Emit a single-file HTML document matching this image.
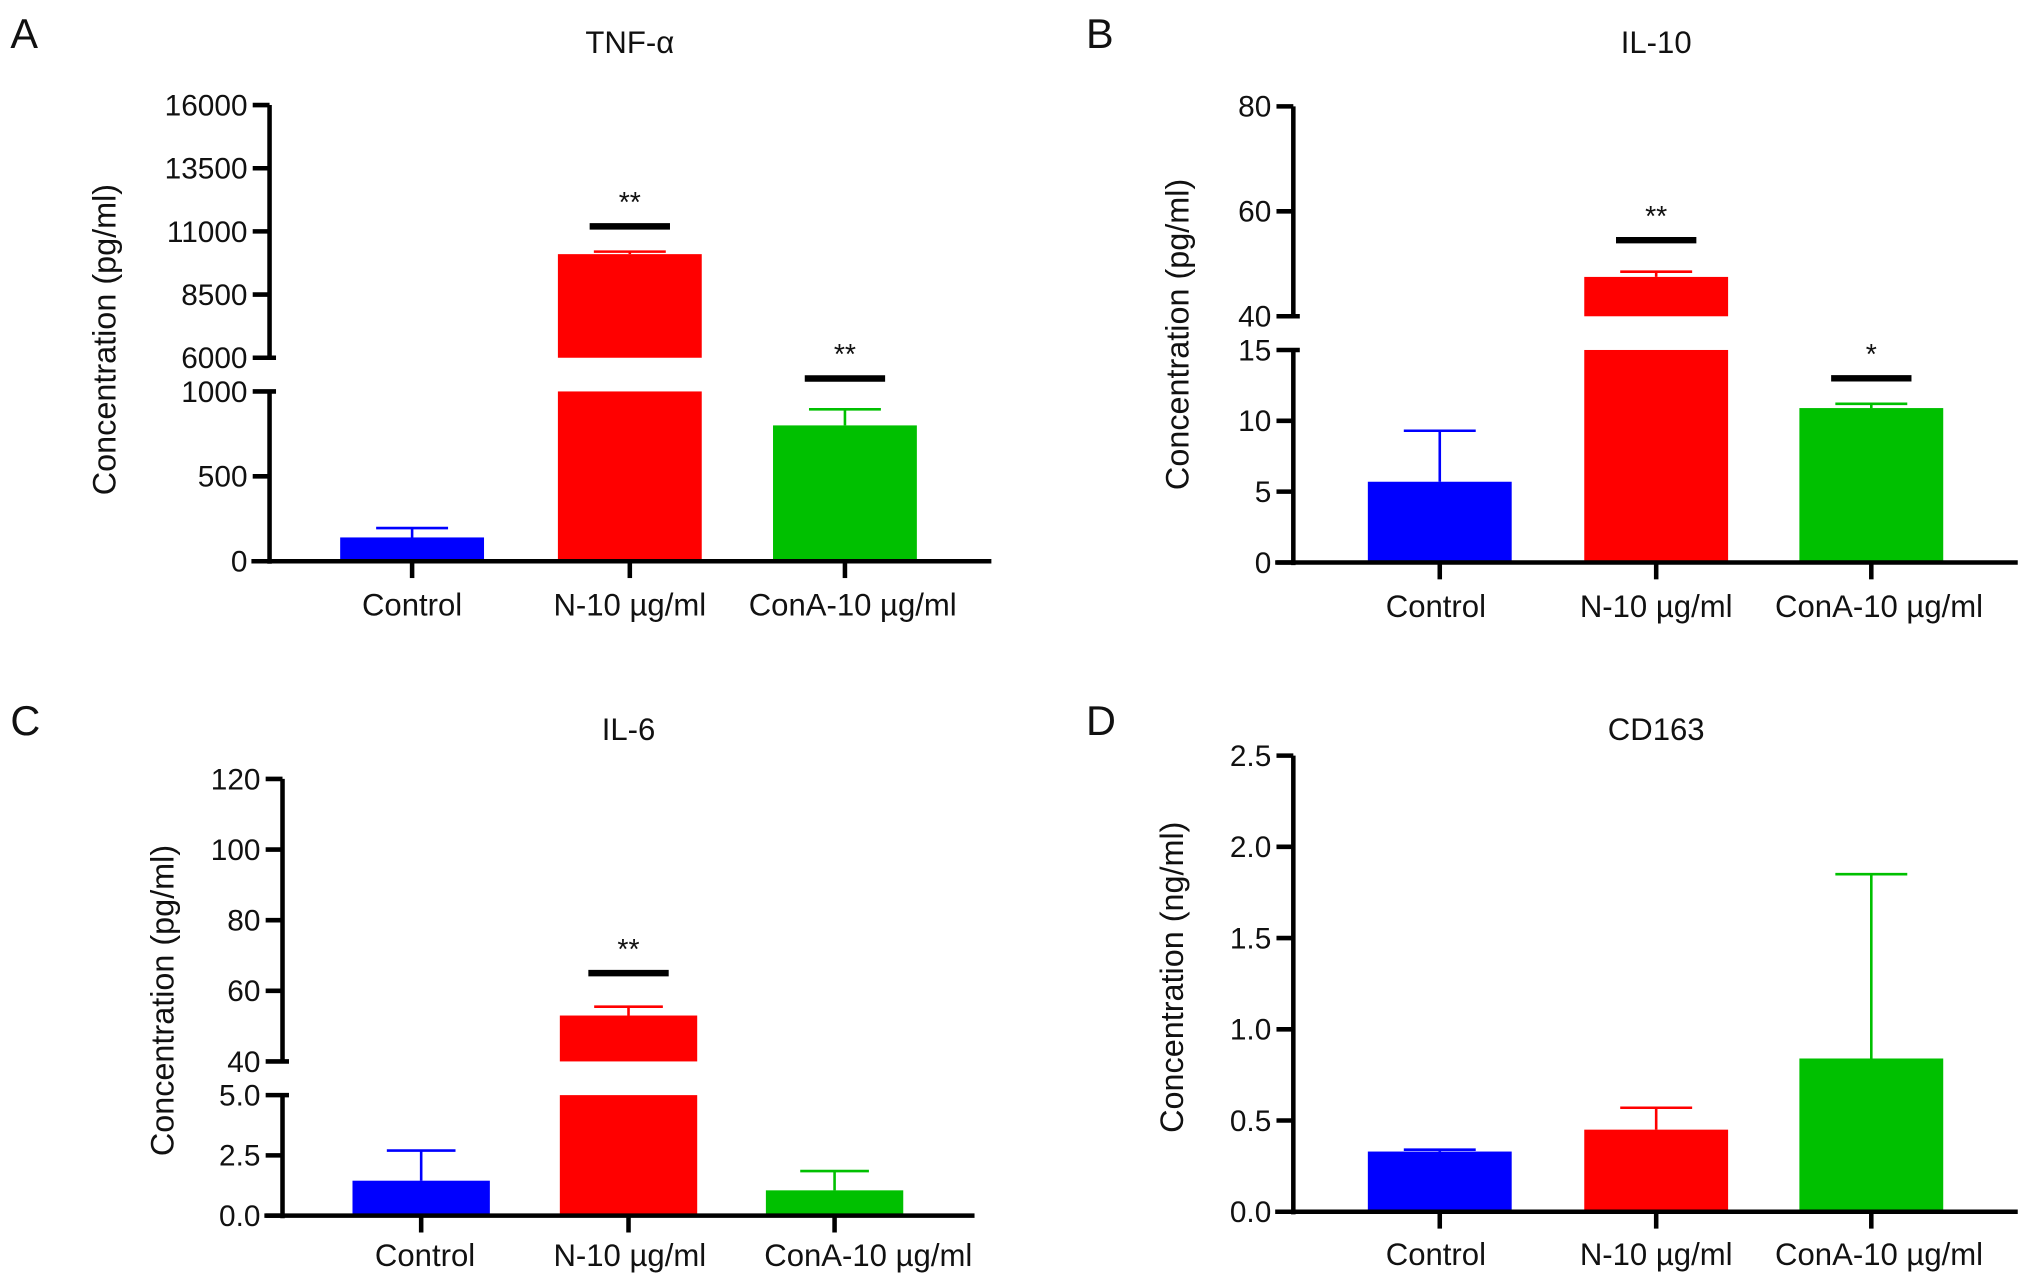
<!DOCTYPE html>
<html><head><meta charset="utf-8"><style>
html,body{margin:0;padding:0;background:#fff}
svg{display:block}
text{font-family:"Liberation Sans",sans-serif;fill:#111}
</style></head><body>
<svg id="fig" width="2032" height="1287" viewBox="0 0 1568 993" xmlns="http://www.w3.org/2000/svg"></svg>
<script>
const categories = ["Control", "N-10 \u00b5g/ml", "ConA-10 \u00b5g/ml"];
const tnfValues = [140, 10100, 800];
const tnfErrors = [195, 10200, 895];
const tnfSig = [null, "**", "**"];
const tnfSigLevel = [null, 11200, 1300];
const tnfTicksUpper = [6000, 8500, 11000, 13500, 16000];
const tnfTicksLower = [0, 500, 1000];
const il10Values = [5.7, 47.5, 10.9];
const il10Errors = [9.3, 48.5, 11.2];
const il10Sig = [null, "**", "*"];
const il10SigLevel = [null, 54.5, 13];
const il10TicksUpper = [40, 60, 80];
const il10TicksLower = [0, 5, 10, 15];
const il6Values = [1.45, 53, 1.05];
const il6Errors = [2.7, 55.5, 1.85];
const il6Sig = [null, "**", null];
const il6SigLevel = [null, 65, null];
const il6TicksUpper = [40, 60, 80, 100, 120];
const il6TicksLower = [0.0, 2.5, 5.0];
const cd163Values = [0.33, 0.45, 0.84];
const cd163Errors = [0.34, 0.57, 1.85];
const cd163Ticks = [0.0, 0.5, 1.0, 1.5, 2.0, 2.5];
const colors = ["#0000ff", "#ff0000", "#00c000"];

const svg = document.getElementById('fig');
const NS = "http://www.w3.org/2000/svg";
function mk(tag, attrs, parent) {
  const e = document.createElementNS(NS, tag);
  for (const k in attrs) e.setAttribute(k, attrs[k]);
  (parent || svg).appendChild(e);
  return e;
}

function panel(cfg) {
  const g = mk('g', {});
  
  
  const segs = cfg.segs;
  function y(v) {
    for (const s of segs) if (v >= s.min && v <= s.max) return s.y0 - (v - s.min) / (s.max - s.min) * (s.y0 - s.y1);
    for (let i = 0; i < segs.length - 1; i++) {
      if (v > segs[i].max && v < segs[i + 1].min) return segs[i].y1 - 10;
    }
    const top = segs[segs.length - 1];
    return top.y0 - (v - top.min) / (top.max - top.min) * (top.y0 - top.y1);
  }
  const ax = cfg.axisX;
  const base = segs[0].y0;
  let t = mk('text', {x: cfg.letterX, y: cfg.letterY, 'font-size': 32}, g); t.textContent = cfg.letter;
   
  t = mk('text', {x: cfg.cx[1], y: cfg.titleY, 'font-size': 24, 'text-anchor': 'middle'}, g); t.textContent = cfg.title;
   
  t = mk('text', {x: 0, y: 0, 'font-size': 25, 'text-anchor': 'middle', transform: `translate(${cfg.ylabX},${cfg.ylabY}) rotate(-90)`}, g);
  t.textContent = cfg.ylabel;
   
  const bw = cfg.bw;
  cfg.values.forEach((v, i) => {
    const cx = cfg.cx[i];
    segs.forEach(s => {
      if (v <= s.min) return;
      const top = Math.min(v, s.max);
      const r = mk('rect', {x: cx - bw / 2, y: y(top), width: bw, height: y(s.min) - y(top), fill: colors[i]}, g);
      
      
    });
    const e = cfg.errors[i];
    const l = mk('path', {d: `M${cx},${y(v)}V${y(e)}M${cx - bw * 0.25},${y(e)}H${cx + bw * 0.25}`, stroke: colors[i], 'stroke-width': 2, fill: 'none'}, g);
    
    
    if (cfg.sig && cfg.sig[i]) {
      const sy = y(cfg.sigLevel[i]);
      const sl = mk('line', {x1: cx - 31, x2: cx + 31, y1: sy, y2: sy, stroke: '#000', 'stroke-width': 5}, g);
      
      
      const st = mk('text', {x: cx, y: sy - 11, 'font-size': 22, 'text-anchor': 'middle', fill: '#333'}, g);
      st.textContent = cfg.sig[i];
      
      
    }
  });
  segs.forEach((s, si) => {
    const a = mk('line', {x1: ax, x2: ax, y1: s.y0 + (si === 0 ? 2 : 0), y2: s.y1, stroke: '#000', 'stroke-width': 3.5}, g);
    
    
    s.ticks.forEach(tv => {
      const ty = y(tv);
      const isBreak = segs.length > 1 && ((si === 0 && tv === s.max) || (si > 0 && tv === s.min));
      const tk = mk('line', {x1: ax - 13, x2: isBreak ? ax + 5 : ax, y1: ty, y2: ty, stroke: '#000', 'stroke-width': 3.5}, g);
      
      
      const tl = mk('text', {x: ax - 17, y: ty + 8, 'font-size': 23, 'text-anchor': 'end'}, g);
      tl.textContent = cfg.fmt(tv);
      
      
    });
  });
  const xa = mk('line', {x1: ax - 14, x2: cfg.axisEnd, y1: base, y2: base, stroke: '#000', 'stroke-width': 3.5}, g);
  
  
  categories.forEach((c, i) => {
    const tk = mk('line', {x1: cfg.cx[i], x2: cfg.cx[i], y1: base, y2: base + 13, stroke: '#000', 'stroke-width': 3.5}, g);
    
    
    const tl = mk('text', {x: cfg.labX[i], y: base + cfg.labOff, 'font-size': 24, 'text-anchor': 'middle'}, g);
    tl.textContent = c;
    
    
  });
}

const intFmt = v => String(v);
const decFmt = v => v.toFixed(1);
const mixFmt = v => (v < 10 ? v.toFixed(1) : String(v));

panel({name: 'panel-a-tnf', letter: 'A', letterX: 8, letterY: 37, title: 'TNF-\u03b1', titleY: 41,
  ylabel: 'Concentration (pg/ml)', ylabX: 89, ylabY: 262, axisX: 208, axisEnd: 765, bw: 111,
  cx: [318, 486, 652], labX: [318, 486, 658], labOff: 42, values: tnfValues, errors: tnfErrors, sig: tnfSig, sigLevel: tnfSigLevel, fmt: intFmt,
  segs: [{min: 0, max: 1000, y0: 433, y1: 302, ticks: tnfTicksLower}, {min: 6000, max: 16000, y0: 276, y1: 81, ticks: tnfTicksUpper}]});

panel({name: 'panel-b-il10', letter: 'B', letterX: 838, letterY: 37, title: 'IL-10', titleY: 41,
  ylabel: 'Concentration (pg/ml)', ylabX: 917, ylabY: 258, axisX: 998, axisEnd: 1557, bw: 111,
  cx: [1111, 1278, 1444], labX: [1108, 1278, 1450], labOff: 42, values: il10Values, errors: il10Errors, sig: il10Sig, sigLevel: il10SigLevel, fmt: intFmt,
  segs: [{min: 0, max: 15, y0: 434, y1: 270, ticks: il10TicksLower}, {min: 40, max: 80, y0: 244, y1: 82, ticks: il10TicksUpper}]});

panel({name: 'panel-c-il6', letter: 'C', letterX: 8, letterY: 567, title: 'IL-6', titleY: 571,
  ylabel: 'Concentration (pg/ml)', ylabX: 134, ylabY: 772, axisX: 218, axisEnd: 752, bw: 106,
  cx: [325, 485, 644], labX: [328, 486, 670], labOff: 39, values: il6Values, errors: il6Errors, sig: il6Sig, sigLevel: il6SigLevel, fmt: mixFmt,
  segs: [{min: 0, max: 5, y0: 938, y1: 845, ticks: il6TicksLower}, {min: 40, max: 120, y0: 819, y1: 601, ticks: il6TicksUpper}]});

panel({name: 'panel-d-cd163', letter: 'D', letterX: 838, letterY: 567, title: 'CD163', titleY: 571,
  ylabel: 'Concentration (ng/ml)', ylabX: 913, ylabY: 754, axisX: 998, axisEnd: 1557, bw: 111,
  cx: [1111, 1278, 1444], labX: [1108, 1278, 1450], labOff: 41, values: cd163Values, errors: cd163Errors, sig: null, sigLevel: null, fmt: decFmt,
  segs: [{min: 0, max: 2.5, y0: 935, y1: 583, ticks: cd163Ticks}]});
</script>
</body></html>
